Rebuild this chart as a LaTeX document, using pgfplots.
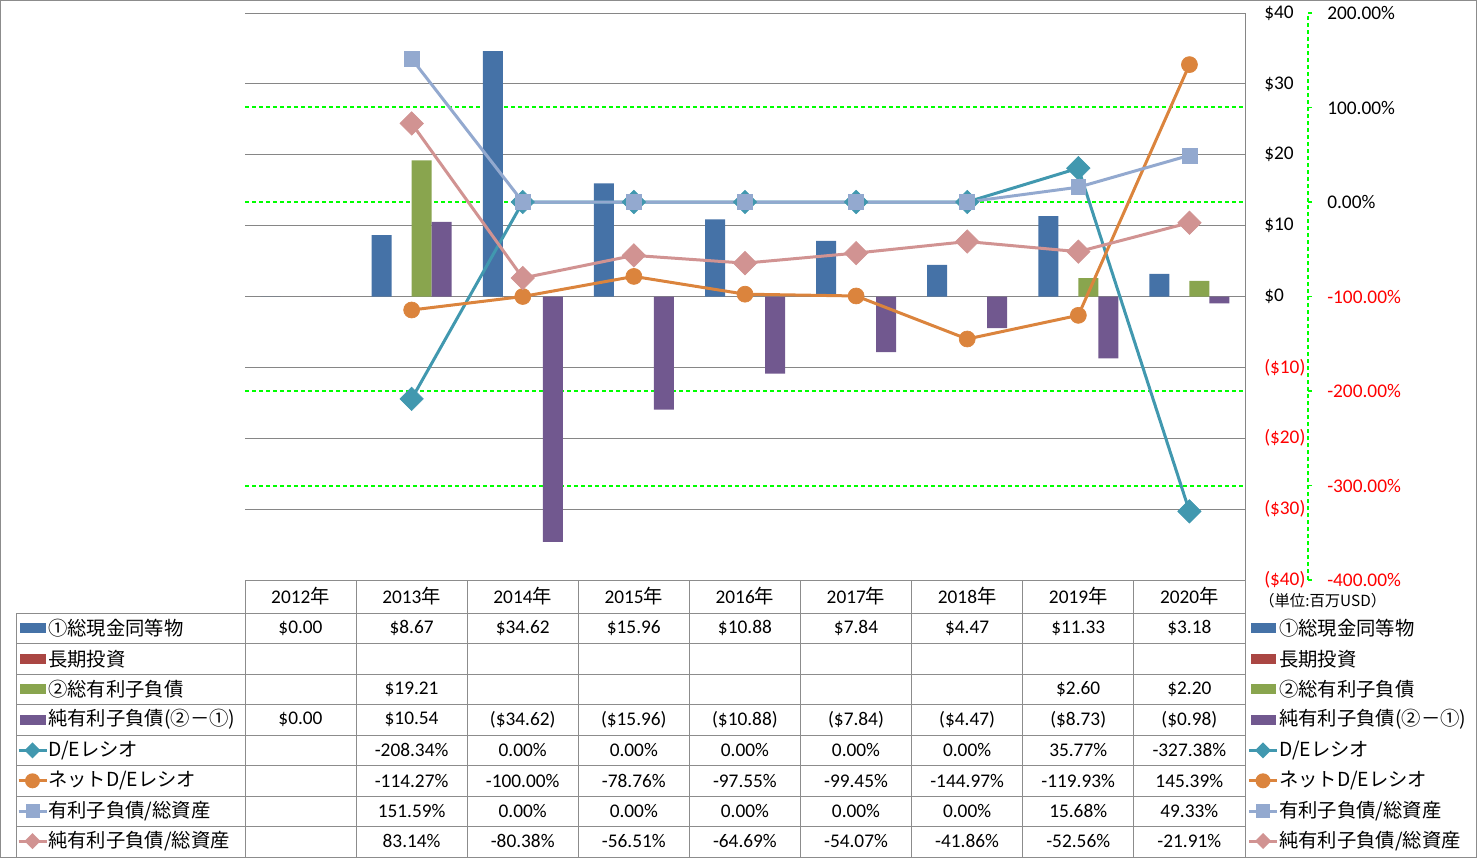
\documentclass[border=0pt]{standalone}
\usepackage{pgfplots}
\pgfplotsset{compat=1.18}
\usepackage{fontspec}
\setmainfont{Carlito}
\newfontfamily\jp{Noto Sans CJK JP}
\definecolor{cBlue}{HTML}{4572A7}
\definecolor{cRed}{HTML}{AA4643}
\definecolor{cGreen}{HTML}{89A54E}
\definecolor{cPurple}{HTML}{71588F}
\definecolor{cTeal}{HTML}{4198AF}
\definecolor{cOrange}{HTML}{DB843D}
\definecolor{cLBlue}{HTML}{93A9CF}
\definecolor{cPink}{HTML}{D19392}
\definecolor{gridgray}{HTML}{868686}
\definecolor{tabgray}{HTML}{8C8C8C}
\definecolor{pgreen}{HTML}{00FF00}
\definecolor{nred}{HTML}{FF0000}
\pgfplotsset{pctgrid/.style={
  at={(183.75pt,208.5pt)}, anchor=south west,
  width=750pt, height=425.25pt, scale only axis,
  xmin=-0.5, xmax=8.5, ymin=-400, ymax=200,
  axis x line=none, axis y line*=right,
  y axis line style={draw=none}, yticklabels={}, major tick length=0pt,
  ymajorgrids}}
\begin{document}
\fontsize{14.5}{17}\selectfont
\begin{tikzpicture}[x=0.75pt,y=0.75pt]
\useasboundingbox (0,0) rectangle (1477,858);
\draw[tabgray, line width=0.75pt] (0.5,0.5) rectangle (1476.5,857.5);
% ---------------- percent axis grid (background) ----------------
\begin{axis}[pctgrid, ytick={-200,0},
  major grid style={draw=pgreen, dash pattern=on 3pt off 2.25pt, line width=1.1pt}]
\end{axis}
\begin{axis}[pctgrid, ytick={100},
  major grid style={draw=pgreen, dash pattern=on 3pt off 2.25pt, line width=1.1pt, yshift=0.375pt}]
\end{axis}
\begin{axis}[pctgrid, ytick={-300},
  major grid style={draw=pgreen, dash pattern=on 3pt off 2.25pt, line width=1.1pt, yshift=-0.375pt}]
\end{axis}
% ---------------- money axis (bars) ----------------
\begin{axis}[
  at={(183.75pt,208.5pt)}, anchor=south west,
  width=750pt, height=425.25pt, scale only axis,
  xmin=-0.5, xmax=8.5, ymin=-40, ymax=40,
  axis x line=none,
  axis y line*=right,
  y axis line style={draw=gridgray, line width=0.75pt, -},
  ytick={-40,-30,...,40},
  yticklabels={\textcolor{nred}{(\$40)},\textcolor{nred}{(\$30)},\textcolor{nred}{(\$20)},\textcolor{nred}{(\$10)},\$0,\$10,\$20,\$30,\$40},
  major tick length=0pt,
  ymajorgrids, major grid style={gridgray, line width=0.75pt},
  yticklabel style={anchor=west, inner sep=0pt, xshift=14.25pt, font=\fontsize{14.5}{17}\selectfont},
  ybar, bar width=15pt,
]
\addplot[fill=cBlue, draw=none, bar shift=-22.5pt] coordinates {(0,0) (1,8.67) (2,34.62) (3,15.96) (4,10.88) (5,7.84) (6,4.47) (7,11.33) (8,3.18)};
\addplot[fill=cGreen, draw=none, bar shift=7.5pt] coordinates {(1,19.21) (7,2.60) (8,2.20)};
\addplot[fill=cPurple, draw=none, bar shift=22.5pt] coordinates {(0,0) (1,10.54) (2,-34.62) (3,-15.96) (4,-10.88) (5,-7.84) (6,-4.47) (7,-8.73) (8,-0.98)};
\end{axis}
% ---------------- percent axis (lines) ----------------
\begin{axis}[
  at={(183.75pt,208.5pt)}, anchor=south west,
  width=750pt, height=425.25pt, scale only axis,
  xmin=-0.5, xmax=8.5, ymin=-400, ymax=200,
  axis x line=none,
  axis y line*=right,
  y axis line style={draw=pgreen, dash pattern=on 3pt off 2.25pt, line width=1pt, xshift=47.25pt, -},
  ytick={-400,-300,...,200},
  yticklabels={\textcolor{nred}{-400.00\%},\textcolor{nred}{-300.00\%},\textcolor{nred}{-200.00\%},\textcolor{nred}{-100.00\%},0.00\%,100.00\%,200.00\%},
  tick align=inside, major tick length=3pt,
  ytick style={draw=pgreen, line width=1pt, xshift=50.25pt},
  yticklabel style={anchor=west, inner sep=0pt, xshift=61.5pt, font=\fontsize{14.5}{17}\selectfont},
  clip=false,
]
\addplot[cTeal, line width=2.25pt, mark=square*, mark size=6.2pt, mark options={rotate=45, fill=cTeal, draw=cTeal, line width=0.5pt}] coordinates {(1,-208.34) (2,0) (3,0) (4,0) (5,0) (6,0) (7,35.77) (8,-327.38)};
\addplot[cOrange, line width=2.25pt, mark=*, mark size=6pt, mark options={fill=cOrange, draw=cOrange, line width=0.5pt}] coordinates {(1,-114.27) (2,-100) (3,-78.76) (4,-97.55) (5,-99.45) (6,-144.97) (7,-119.93) (8,145.39)};
\addplot[cLBlue, line width=2.25pt, mark=square*, mark size=5.6pt, mark options={fill=cLBlue, draw=cLBlue, line width=0.5pt}] coordinates {(1,151.59) (2,0) (3,0) (4,0) (5,0) (6,0) (7,15.68) (8,49.33)};
\addplot[cPink, line width=2.25pt, mark=square*, mark size=6.2pt, mark options={rotate=45, fill=cPink, draw=cPink, line width=0.5pt}] coordinates {(1,83.14) (2,-80.38) (3,-56.51) (4,-64.69) (5,-54.07) (6,-41.86) (7,-52.56) (8,-21.91)};
\end{axis}
% ---------------- data table ----------------
\begin{scope}[tabgray, line width=0.75pt]
\draw (245,{858-580}) -- (1245,{858-580});
\foreach \yy in {613.3,643.6,674,704.5,735,765.5,796,826.3}
  \draw (16,{858-\yy}) -- (1245,{858-\yy});
\draw (16,{858-613.3}) -- (16,1);
\foreach \xx in {245,356.1,467.2,578.3,689.4,800.5,911.6,1022.7,1133.8,1245}
  \draw (\xx,{858-580}) -- (\xx,1);
\end{scope}
% header
\foreach \yr [count=\i from 0] in {2012,2013,2014,2015,2016,2017,2018,2019,2020}
  \node at ({300.5+111.1*\i},{858-596.5}) {\yr{\jp 年}};
% rows
\foreach \v [count=\i from 0] in {{\$0.00},{\$8.67},{\$34.62},{\$15.96},{\$10.88},{\$7.84},{\$4.47},{\$11.33},{\$3.18}}
  \node at ({300.5+111.1*\i},{858-628.3}) {\v};
\foreach \v [count=\i from 0] in {{},{\$19.21},{},{},{},{},{},{\$2.60},{\$2.20}}
  \node at ({300.5+111.1*\i},{858-689.3}) {\v};
\foreach \v [count=\i from 0] in {{\$0.00},{\$10.54},{(\$34.62)},{(\$15.96)},{(\$10.88)},{(\$7.84)},{(\$4.47)},{(\$8.73)},{(\$0.98)}}
  \node at ({300.5+111.1*\i},{858-719.6}) {\v};
\foreach \v [count=\i from 0] in {{},{-208.34\%},{0.00\%},{0.00\%},{0.00\%},{0.00\%},{0.00\%},{35.77\%},{-327.38\%}}
  \node at ({300.5+111.1*\i},{858-750.3}) {\v};
\foreach \v [count=\i from 0] in {{},{-114.27\%},{-100.00\%},{-78.76\%},{-97.55\%},{-99.45\%},{-144.97\%},{-119.93\%},{145.39\%}}
  \node at ({300.5+111.1*\i},{858-780.8}) {\v};
\foreach \v [count=\i from 0] in {{},{151.59\%},{0.00\%},{0.00\%},{0.00\%},{0.00\%},{0.00\%},{15.68\%},{49.33\%}}
  \node at ({300.5+111.1*\i},{858-811.1}) {\v};
\foreach \v [count=\i from 0] in {{},{83.14\%},{-80.38\%},{-56.51\%},{-64.69\%},{-54.07\%},{-41.86\%},{-52.56\%},{-21.91\%}}
  \node at ({300.5+111.1*\i},{858-841}) {\v};
% legend keys (left and right)
\foreach \kx/\tx in {32.5/48, 1263/1279}{
  \fill[cBlue]   ({\kx-12.5},{858-628.3-5}) rectangle ({\kx+13},{858-628.3+5});
  \fill[cRed]    ({\kx-12.5},{858-658.8-5}) rectangle ({\kx+13},{858-658.8+5});
  \fill[cGreen]  ({\kx-12.5},{858-689.3-5}) rectangle ({\kx+13},{858-689.3+5});
  \fill[cPurple] ({\kx-12.5},{858-719.6-5}) rectangle ({\kx+13},{858-719.6+5});
  \draw[cTeal, line width=2.25pt] ({\kx-14},{858-750.3}) -- ({\kx+14},{858-750.3});
  \fill[cTeal] ({\kx-8},{858-750.3}) -- ({\kx},{858-750.3+8}) -- ({\kx+8},{858-750.3}) -- ({\kx},{858-750.3-8}) -- cycle;
  \draw[cOrange, line width=2.25pt] ({\kx-14},{858-780.8}) -- ({\kx+14},{858-780.8});
  \fill[cOrange] ({\kx},{858-780.8}) circle (7.5);
  \draw[cLBlue, line width=2.25pt] ({\kx-14},{858-811.1}) -- ({\kx+14},{858-811.1});
  \fill[cLBlue] ({\kx-7},{858-811.1-7}) rectangle ({\kx+7},{858-811.1+7});
  \draw[cPink, line width=2.25pt] ({\kx-14},{858-841}) -- ({\kx+14},{858-841});
  \fill[cPink] ({\kx-8},{858-841}) -- ({\kx},{858-841+8}) -- ({\kx+8},{858-841}) -- ({\kx},{858-841-8}) -- cycle;
  \node[anchor=west, inner sep=0pt] at (\tx,{858-628.3}) {\jp ①総現金同等物};
  \node[anchor=west, inner sep=0pt] at (\tx,{858-658.8}) {\jp 長期投資};
  \node[anchor=west, inner sep=0pt] at (\tx,{858-689.3}) {\jp ②総有利子負債};
  \node[anchor=west, inner sep=0pt] at (\tx,{858-719.6}) {\jp 純有利子負債(②－①)};
  \node[anchor=west, inner sep=0pt] at (\tx,{858-750.3}) {\jp D/Eレシオ};
  \node[anchor=west, inner sep=0pt] at (\tx,{858-780.8}) {\jp ネットD/Eレシオ};
  \node[anchor=west, inner sep=0pt] at (\tx,{858-811.1}) {\jp 有利子負債/総資産};
  \node[anchor=west, inner sep=0pt] at (\tx,{858-841}) {\jp 純有利子負債/総資産};
}
\node[anchor=west, inner sep=0pt] at (1259,{858-601}) {\jp\fontsize{11.5}{13}\selectfont （単位:百万USD）};
\end{tikzpicture}
\end{document}
